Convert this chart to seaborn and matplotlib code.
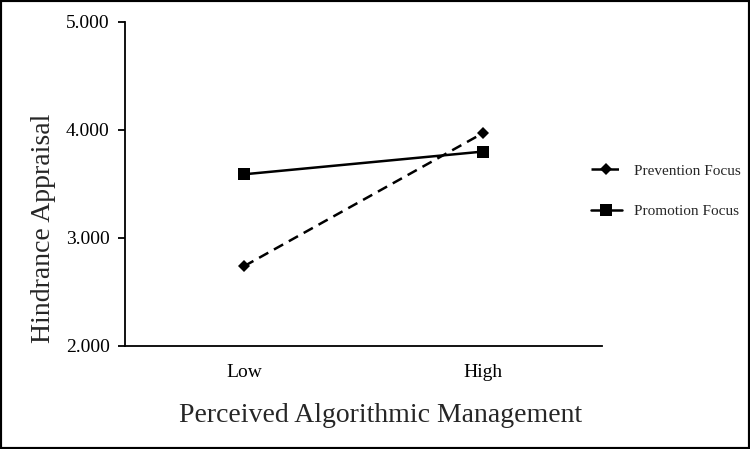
import pandas as pd
import seaborn as sns
import matplotlib.pyplot as plt
from matplotlib.patches import Rectangle

# values
levels = ["Low", "High"]
prevention = [2.74, 3.97]
promotion = [3.59, 3.80]
series_names = ["Prevention Focus", "Promotion Focus"]
y_ticks = [2.0, 3.0, 4.0, 5.0]

rows = []
for i, lvl in enumerate(levels):
    rows.append({"pos": i, "level": lvl, "focus": series_names[0], "value": prevention[i]})
    rows.append({"pos": i, "level": lvl, "focus": series_names[1], "value": promotion[i]})
df = pd.DataFrame(rows)

sns.set_style("white")
plt.rcParams["font.family"] = ["Liberation Serif", "DejaVu Serif"]

fig = plt.figure(figsize=(7.5, 4.49), dpi=100)
ax = fig.add_axes([125 / 750, 103 / 449, 477 / 750, 324 / 449])

sns.lineplot(data=df, x="pos", y="value", hue="focus", style="focus",
             palette={series_names[0]: "black", series_names[1]: "black"},
             markers={series_names[0]: "D", series_names[1]: "s"},
             dashes={series_names[0]: (4.2, 2.6), series_names[1]: ""},
             linewidth=1.8, markeredgewidth=0, ax=ax)
for line in ax.lines:
    if line.get_marker() == "D":
        line.set_markersize(6.5)
    else:
        line.set_markersize(8)

handles, labels = ax.get_legend_handles_labels()
ax.get_legend().remove()
for h in handles:
    h.set_linewidth(1.8)
    h.set_markersize(6.5 if h.get_marker() == "D" else 8)
fig.legend(handles, labels, loc="center left", bbox_to_anchor=(591 / 750, 1 - 191 / 449),
           frameon=False, fontsize=11, handlelength=2.0, handletextpad=0.8,
           labelspacing=1.75, borderpad=0, borderaxespad=0)

ax.set_xlim(-0.5, 1.5)
ax.set_ylim(2.0, 5.0)
ax.set_xticks([0, 1, 1.5])
ax.set_xticklabels(["Low", "High", ""])
ax.set_yticks(y_ticks)
ax.set_yticklabels([f"{v:.3f}" for v in y_ticks])

for side in ["top", "right"]:
    ax.spines[side].set_visible(False)
for side in ["left", "bottom"]:
    ax.spines[side].set_linewidth(1.3)
    ax.spines[side].set_color("black")

ax.tick_params(axis="x", direction="in", length=4, width=1.3, pad=13, labelsize=14, colors="black")
ax.tick_params(axis="y", direction="out", length=5, width=1.3, pad=6, labelsize=14, colors="black", left=True)

ax.set_xlabel("Perceived Algorithmic Management", fontsize=20)
ax.xaxis.set_label_coords(0.535, -0.215)
ax.xaxis.label.set_va("center")
ax.set_ylabel("Hindrance Appraisal", fontsize=20)
ax.yaxis.set_label_coords(-0.17, 0.364)
ax.yaxis.label.set_va("center")

fig.patches.append(Rectangle((0, 0), 1, 1, transform=fig.transFigure, fill=False,
                             edgecolor="black", linewidth=3))

fig.savefig("out.png", dpi=100)
